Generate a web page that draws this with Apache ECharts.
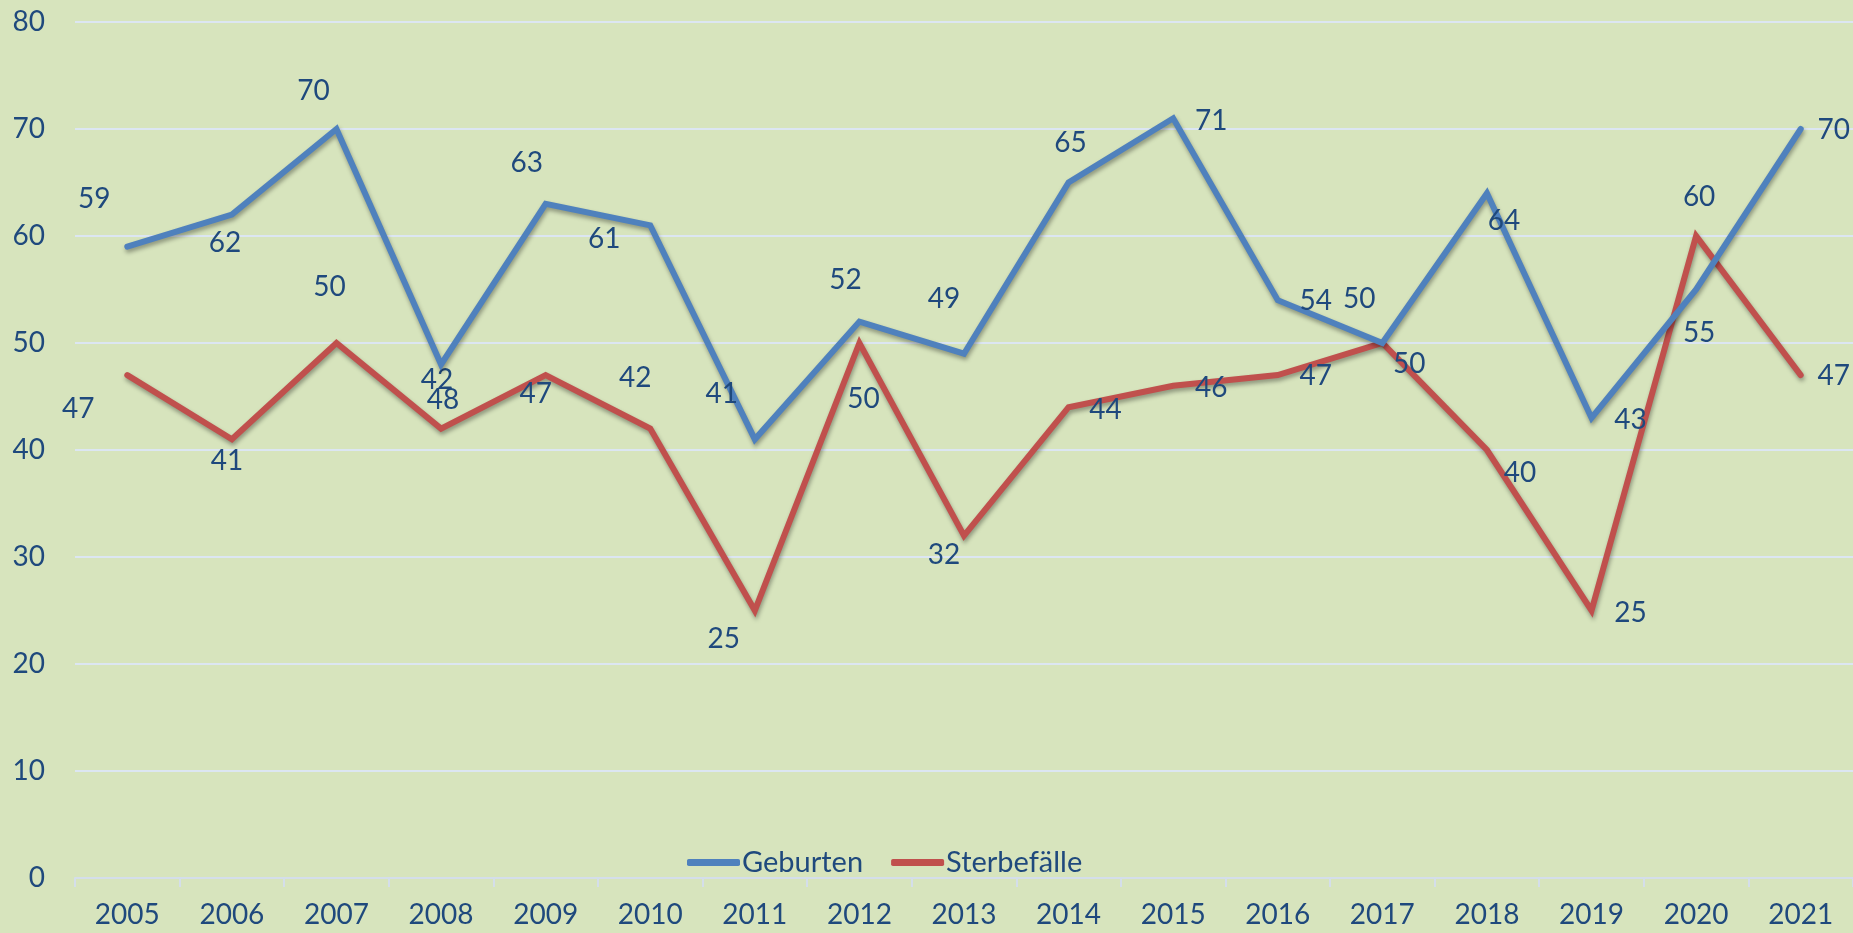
<!DOCTYPE html>
<html>
<head>
<meta charset="utf-8">
<script src="https://cdn.jsdelivr.net/npm/echarts@6/dist/echarts.min.js"></script>
<style>
html,body{margin:0;padding:0;background:#D7E4BD;}
#chart{width:1853px;height:933px;}
</style>
</head>
<body>
<div id="chart"></div>
<script>
const years = ['2005','2006','2007','2008','2009','2010','2011','2012','2013','2014','2015','2016','2017','2018','2019','2020','2021'];
const geburten = [59,62,70,48,63,61,41,52,49,65,71,54,50,64,43,55,70];
const sterbefaelle = [47,41,50,42,47,42,25,50,32,44,46,47,50,40,25,60,47];
const yTicks = [0,10,20,30,40,50,60,70,80];

// label offsets (px) relative to each point
const geburtenLabelOffsets = [[-33,-48],[-7,28],[-23,-38],[2,36],[-19,-41],[-46,14],[-33,-45],[-14,-42],[-20,-55],[2,-40],[38,3],[38,1],[-23,-44],[17,28],[39,2],[3,43],[33,1]];
const sterbeLabelOffsets = [[-49,34],[-5,22],[-7,-56],[-4,-49],[-10,19],[-15,-51],[-31,28],[4,56],[-20,19],[37,3],[38,2],[38,1],[27,21],[33,23],[39,2],[3,-39],[33,1]];

const textColor = '#1F497D';
const blue = '#4F81BD';
const red = '#C0504D';
const fontFamily = 'Lato, "Open Sans", sans-serif';

function buildData(values, offsets){
  return values.map((v,i)=>({value:v,label:{offset:offsets[i]}}));
}

const chart = echarts.init(document.getElementById('chart'));
const lineShadow = {shadowColor:'rgba(0,0,0,0.35)',shadowBlur:4,shadowOffsetX:1,shadowOffsetY:3};
const labelCommon = {show:true,position:'inside',color:textColor,fontSize:28,fontFamily:fontFamily};

chart.setOption({
  backgroundColor:'#D7E4BD',
  animation:false,
  grid:{left:75,right:0,top:22,bottom:55,containLabel:false},
  legend:{
    left:682, top:843,
    itemWidth:53, itemHeight:7, itemGap:28,
    icon:'roundRect',
    textStyle:{color:textColor,fontSize:29,fontFamily:fontFamily,padding:[0,0,0,-3]},
    data:[{name:'Geburten',itemStyle:{color:blue}},{name:'Sterbefälle',itemStyle:{color:red}}]
  },
  xAxis:{
    type:'category',
    data:years,
    boundaryGap:true,
    axisLine:{lineStyle:{color:'#D4DEEA',width:2}},
    axisTick:{show:true,length:9,lineStyle:{color:'#D4DEEA',width:2}},
    axisLabel:{color:textColor,fontSize:28,fontFamily:fontFamily,margin:23}
  },
  yAxis:{
    type:'value',
    min:yTicks[0], max:yTicks[yTicks.length-1], interval:10,
    axisLine:{show:false},
    axisTick:{show:false},
    splitLine:{lineStyle:{color:'#DCE6F2',width:2}},
    axisLabel:{color:textColor,fontSize:28,fontFamily:fontFamily,margin:30}
  },
  series:[
    {
      name:'Geburten', type:'line',
      color:blue,
      data:buildData(geburten,geburtenLabelOffsets),
      symbol:'circle', symbolSize:1, showSymbol:true,
      itemStyle:{color:'rgba(0,0,0,0)'},
      lineStyle:Object.assign({color:blue,width:6,cap:'round',join:'miter'},lineShadow),
      label:labelCommon,
      z:3
    },
    {
      name:'Sterbefälle', type:'line',
      color:red,
      data:buildData(sterbefaelle,sterbeLabelOffsets),
      symbol:'circle', symbolSize:1, showSymbol:true,
      itemStyle:{color:'rgba(0,0,0,0)'},
      lineStyle:Object.assign({color:red,width:6,cap:'round',join:'miter'},lineShadow),
      label:labelCommon,
      z:2
    }
  ]
});
</script>
</body>
</html>
